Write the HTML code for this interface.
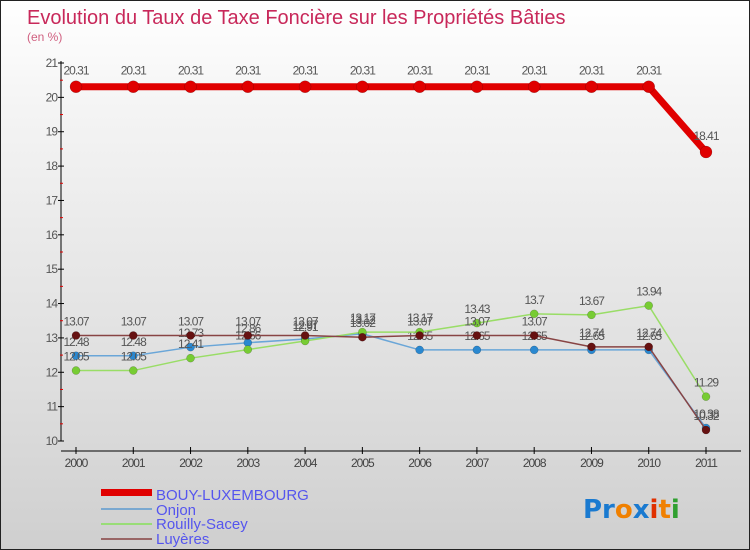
<!DOCTYPE html>
<html><head><meta charset="utf-8"><style>
body{margin:0}
#c{width:750px;height:550px;position:relative;overflow:hidden;background:linear-gradient(#ffffff,#f4f4f4 20%,#dedede 70%,#cfcfcf);border:1px solid #222;box-sizing:border-box;font-family:"Liberation Sans",sans-serif}
</style></head><body>
<div id="c">
<svg id="s" width="750" height="550">
<text x="26" y="23" font-size="20" fill="#c8285a" font-family="Liberation Sans Narrow, Liberation Sans, sans-serif">Evolution du Taux de Taxe Foncière sur les Propriétés Bâties</text>
<text x="26" y="40" font-size="12" fill="#d06080">(en %)</text>
<g id="g"></g>
<g>
<rect x="100" y="488" width="51" height="7" fill="#e00000"/>
<text x="155" y="499" font-size="15" fill="#5555ee">BOUY-LUXEMBOURG</text>
<rect x="100" y="507" width="51" height="2" fill="#7aa8d0"/>
<text x="155" y="514" font-size="15" fill="#5555ee">Onjon</text>
<rect x="100" y="522" width="51" height="2" fill="#99dd77"/>
<text x="155" y="528" font-size="15" fill="#5555ee">Rouilly-Sacey</text>
<rect x="100" y="537" width="51" height="2" fill="#996666"/>
<text x="155" y="543" font-size="15" fill="#5555ee">Luyères</text>
</g>
<text x="582" y="517" font-size="26" font-family="DejaVu Sans" font-weight="bold"><tspan fill="#1a7ad0">Pr</tspan><tspan fill="#f08000">o</tspan><tspan fill="#1a7ad0">x</tspan><tspan fill="#e03000">i</tspan><tspan fill="#f08000">t</tspan><tspan fill="#30a030">i</tspan></text>
</svg>
</div>
<script>
const years=["2000","2001","2002","2003","2004","2005","2006","2007","2008","2009","2010","2011"];
const yTicks=[10,11,12,13,14,15,16,17,18,19,20,21];
const bouy=[20.31,20.31,20.31,20.31,20.31,20.31,20.31,20.31,20.31,20.31,20.31,18.41];
const onjon=[12.48,12.48,12.73,12.86,12.97,13.12,12.65,12.65,12.65,12.65,12.65,10.38];
const rouilly=[12.05,12.05,12.41,12.66,12.91,13.17,13.17,13.43,13.7,13.67,13.94,11.29];
const luyeres=[13.07,13.07,13.07,13.07,13.07,13.02,13.07,13.07,13.07,12.74,12.74,10.32];
const NS="http://www.w3.org/2000/svg";
const g=document.getElementById('g');
function X(i){return 75+i*(630/11);}
function Y(v){return 440-(v-10)*(378/11);}
function mk(t,a){const e=document.createElementNS(NS,t);for(const k in a)e.setAttribute(k,a[k]);g.appendChild(e);return e;}
let e=mk('line',{x1:60,y1:60,x2:60,y2:440,stroke:'#000'});


e=mk('line',{x1:60,y1:450,x2:740,y2:450,stroke:'#000'});


yTicks.forEach(v=>{
 let t=mk('line',{x1:57,y1:Y(v),x2:63,y2:Y(v),stroke:'#000'});
 
 
 if(v<21){let m=mk('line',{x1:59,y1:Y(v+0.5),x2:62,y2:Y(v+0.5),stroke:'#e00000'});
 
 }
 let l=mk('text',{x:56,y:Y(v)+4,'font-size':12,fill:'#555','text-anchor':'end','letter-spacing':'-1'});
 l.textContent=v;
 
 
});
years.forEach((y,i)=>{
 let t=mk('line',{x1:X(i),y1:446,x2:X(i),y2:453,stroke:'#000'});
 
 
 let l=mk('text',{x:X(i),y:466,'font-size':12,fill:'#444','text-anchor':'middle','letter-spacing':'-1'});
 l.textContent=y;
 
 
});
function series(arr,color,dot,w,r,name){
 let p=mk('polyline',{points:arr.map((v,i)=>X(i)+','+Y(v)).join(' '),fill:'none',stroke:color,'stroke-width':w});
 
 
 arr.forEach((v,i)=>{
  let c=mk('circle',{cx:X(i),cy:Y(v),r:r,fill:dot,stroke:'rgba(0,0,0,0.3)','stroke-width':0.5});
  
  
  let l=mk('text',{x:X(i),y:Y(v)-r-6,'font-size':12,fill:'#555','text-anchor':'middle','letter-spacing':'-1'});
  l.textContent=v;
  
  
 });
}
series(onjon,'#6aa6d8','#2a88d0',1.5,4,'onjon');
series(rouilly,'#99dd66','#77cc33',1.5,4,'rouilly');
series(luyeres,'#884444','#661111',1.5,4,'luyeres');
series(bouy,'#e00000','#e00000',7,6,'bouy');
</script>
</body></html>
